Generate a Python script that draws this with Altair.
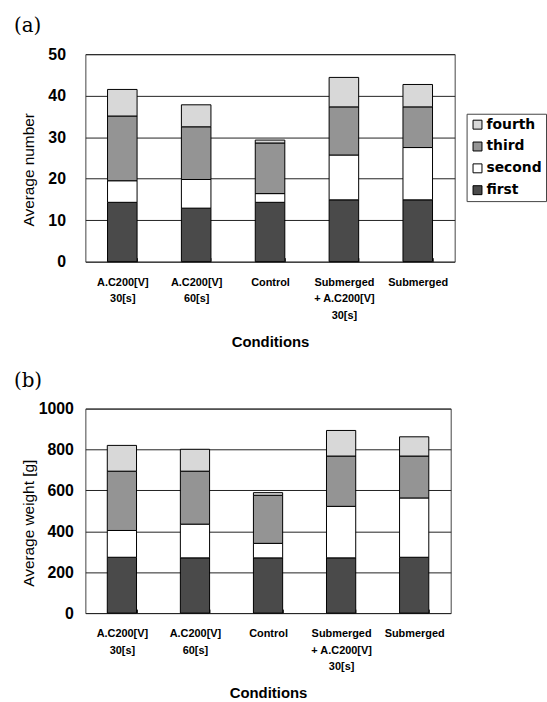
import altair as alt
import pandas as pd

categories = ["A.C200[V]|30[s]", "A.C200[V]|60[s]", "Control",
              "Submerged|+ A.C200[V]|30[s]", "Submerged"]
series = ["first", "second", "third", "fourth"]
legend_order = ["fourth", "third", "second", "first"]
colors = ["#d8d8d8", "#949494", "#ffffff", "#4a4a4a"]

number_first = [14.3, 12.9, 14.3, 14.9, 14.9]
number_second = [5.2, 6.9, 2.1, 10.8, 12.6]
number_third = [15.6, 12.7, 12.2, 11.6, 9.8]
number_fourth = [6.4, 5.3, 0.7, 7.1, 5.4]

weight_first = [273, 270, 270, 270, 273]
weight_second = [131, 165, 71, 252, 290]
weight_third = [290, 259, 235, 246, 205]
weight_fourth = [126, 107, 13, 125, 94]


def make_df(first, second, third, fourth):
    rows = []
    for s_i, (name, vals) in enumerate(zip(series, [first, second, third, fourth])):
        for c, v in zip(categories, vals):
            rows.append({"cond": c, "series": name, "value": v, "rank": s_i})
    return pd.DataFrame(rows)


def panel(df, label, ytitle, ymax, ystep, w, h, title_y, label_pad, lx, ly):
    return alt.Chart(df).mark_bar(stroke="black", strokeWidth=1).encode(
        x=alt.X("cond:N", sort=categories,
                scale=alt.Scale(paddingInner=0.6, paddingOuter=0.3),
                axis=alt.Axis(title="Conditions", labelAngle=0,
                              labelExpr="split(datum.label, '|')",
                              labelFont="Liberation Sans", labelFontWeight="bold",
                              labelFontSize=11, labelLineHeight=16.5,
                              labelColor="black", labelPadding=15,
                              domain=False, ticks=True, tickBand="extent",
                              tickSize=4, tickColor="#222", offset=-4,
                              titleFont="Liberation Sans", titleFontSize=15,
                              titleFontWeight="bold", titleColor="black",
                              titlePadding=14)),
        y=alt.Y("value:Q", stack="zero",
                scale=alt.Scale(domain=[0, ymax], nice=False),
                axis=alt.Axis(title=ytitle, values=list(range(0, ymax + 1, ystep)),
                              format="d",
                              domain=False, ticks=False, tickSize=0,
                              labelPadding=label_pad, labelFont="Liberation Sans",
                              labelFontWeight="bold", labelFontSize=16,
                              labelColor="black", gridColor="#222", gridWidth=1,
                              titleFont="Liberation Sans", titleFontSize=15.5,
                              titleFontWeight="normal", titleColor="black",
                              titleX=-49, titleY=title_y)),
        color=alt.Color("series:N",
                        scale=alt.Scale(domain=legend_order, range=colors),
                        legend=alt.Legend(title=None, orient="none",
                                          legendX=lx, legendY=ly,
                                          symbolType="square", symbolSize=81,
                                          symbolStrokeColor="black",
                                          symbolStrokeWidth=1, symbolOpacity=1,
                                          labelFont="DejaVu Sans",
                                          labelFontWeight="bold",
                                          labelFontSize=14, labelColor="black",
                                          labelOffset=2, rowPadding=8,
                                          padding=4, strokeColor="#444",
                                          fillColor="white")),
        order=alt.Order("rank:Q", sort="ascending"),
    ).properties(
        width=w, height=h,
        title=alt.TitleParams(label, anchor="start", frame="bounds",
                              font="DejaVu Serif", fontSize=20,
                              fontWeight="normal", color="black",
                              dx=-8, offset=10),
    )


chart_a = panel(make_df(number_first, number_second, number_third, number_fourth),
                "(a)", "Average number", 50, 10, 372, 209, 116, 20, 384, 60)
chart_b = panel(make_df(weight_first, weight_second, weight_third, weight_fourth),
                "(b)", "Average weight [g]", 1000, 200, 368, 206, 115, 12, 380, 58)

chart = alt.concat(chart_a, chart_b, columns=1, spacing=20).properties(
    padding={"left": 13, "top": 13, "right": 0, "bottom": 0},
    background="white",
).configure_view(stroke="#444", strokeWidth=1)

chart.save("out.html", embed_options={"renderer": "svg", "actions": False})
